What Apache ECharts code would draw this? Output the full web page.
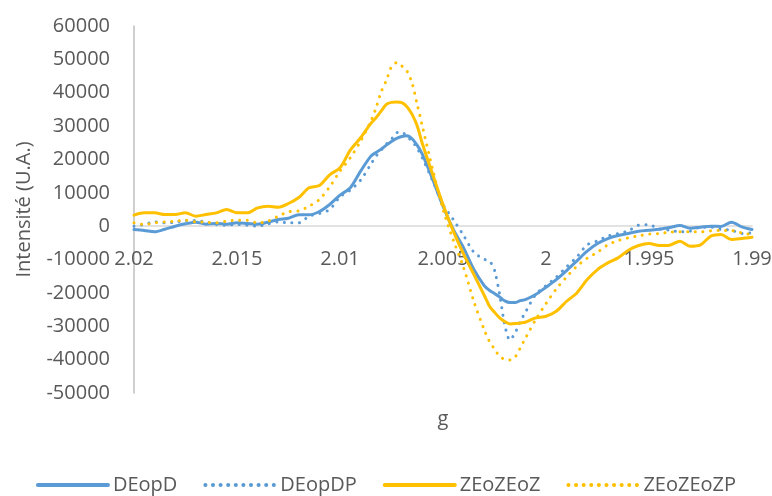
<!DOCTYPE html>
<html>
<head>
<meta charset="utf-8">
<script src="https://cdn.jsdelivr.net/npm/echarts@6/dist/echarts.min.js"></script>
<style>
  html, body { margin: 0; padding: 0; background: #fff; }
  #chart { width: 772px; height: 496px; }
</style>
</head>
<body>
<div id="chart"></div>
<script>
// g values (x axis, reversed)
const gValues = [
  2.0200, 2.0195, 2.0190, 2.0185, 2.0180, 2.0175, 2.0170, 2.0165, 2.0160, 2.0155,
  2.0150, 2.0145, 2.0140, 2.0135, 2.0130, 2.0125, 2.0120, 2.0115, 2.0110, 2.0105,
  2.0100, 2.0095, 2.0090, 2.0085, 2.00825, 2.0080, 2.00775, 2.0075, 2.00725, 2.0070,
  2.00675, 2.0065, 2.00625, 2.0060, 2.0055, 2.0050, 2.0045, 2.0040, 2.0035, 2.0030,
  2.00275, 2.0025, 2.00225, 2.0020, 2.00175, 2.0015, 2.00125, 2.0010, 2.0005, 2.0000,
  1.9995, 1.9990, 1.9985, 1.9980, 1.9975, 1.9970, 1.9965, 1.9960, 1.9955, 1.9950,
  1.9945, 1.9940, 1.9935, 1.9930, 1.9925, 1.9920, 1.9915, 1.9910, 1.9905, 1.9900
];

const DEopD = [
  -1000, -1300, -1700, -900, 0, 700, 1200, 600, 800, 600,
  1000, 800, 600, 1200, 2000, 2400, 3400, 3400, 4400, 6500,
  9300, 11500, 16500, 21000, 22100, 23100, 24300, 25400, 26300, 26900,
  27100, 26200, 24200, 21500, 14000, 6000, -1000, -6500, -13000, -17800,
  -19200, -20200, -21200, -22400, -22900, -22900, -22300, -22000, -20500, -18300,
  -16000, -13300, -10400, -7500, -5200, -3700, -2800, -2200, -1500, -1200,
  -900, -400, 200, -600, -300, 0, -100, 1200, -200, -1000
];

const DEopDP = [
  0, 500, 1300, 1000, 1200, 1700, 1700, 1200, 500, 300,
  500, 300, 0, 700, 1300, 1000, 1000, 3000, 3800, 5000,
  8800, 10800, 13800, 18600, 21000, 22800, 24600, 26100, 28000, 28200,
  26800, 25500, 23300, 20400, 13600, 6500, 2000, -2800, -7800, -9900,
  -10400, -13200, -20500, -29600, -34100, -32000, -28600, -25800, -20500, -17800,
  -15300, -12200, -9200, -5600, -4400, -3000, -2200, -1400, 300, 400,
  -800, -1200, -1700, -1500, -300, -300, -1000, -1200, -2200, -2000
];

const ZEoZEoZ = [
  3300, 4000, 4000, 3500, 3500, 4000, 3000, 3500, 4000, 5000,
  4000, 4000, 5500, 6000, 5700, 6800, 8600, 11500, 12200, 15400,
  17500, 22800, 26500, 30800, 32500, 34500, 36500, 37100, 37200, 37000,
  35800, 33500, 30000, 24700, 15500, 6500, -1500, -8400, -14500, -20700,
  -23900, -25800, -27500, -28600, -29300, -29200, -29000, -28800, -27500, -27000,
  -25500, -22500, -20000, -16000, -13000, -11000, -9500, -7200, -5800, -5200,
  -5800, -5700, -4500, -6000, -5600, -3000, -2500, -4000, -3700, -3300
];

const ZEoZEoZP = [
  1000, 500, 1000, 1300, 1500, 1800, 1300, 1200, 1000, 1500,
  1800, 1800, 1000, 1500, 3000, 4300, 4600, 6000, 8000, 11800,
  16500, 20500, 25500, 31500, 35500, 40300, 43700, 47800, 49000, 48000,
  46500, 42800, 36500, 29900, 17000, 5000, -4200, -12400, -22600, -31000,
  -34500, -36800, -39000, -39900, -40100, -39200, -36500, -33600, -28000, -23200,
  -18800, -15200, -12000, -9600, -7800, -5600, -4300, -3500, -2900, -2400,
  -2200, -1800, -1700, -1700, -1700, -1400, -1300, -1300, -2000, -2500
];

const seriesNames = ['DEopD', 'DEopDP', 'ZEoZEoZ', 'ZEoZEoZP'];
const seriesValues = [DEopD, DEopDP, ZEoZEoZ, ZEoZEoZP];

const BLUE = '#5B9BD5';
const GOLD = '#FFC000';
const TEXT = '#595959';
const FONT = 'Open Sans';

const styles = [
  { color: BLUE, dotted: false },
  { color: BLUE, dotted: true },
  { color: GOLD, dotted: false },
  { color: GOLD, dotted: true }
];

const chart = echarts.init(document.getElementById('chart'));

const series = seriesNames.map((name, k) => ({
  name: name,
  type: 'line',
  data: gValues.map((g, i) => [g, seriesValues[k][i]]),
  symbol: 'none',
  smooth: 0.3,
  lineStyle: {
    color: styles[k].color,
    width: 3,
    type: styles[k].dotted ? [0.1, 7.5] : 'solid',
    cap: 'round'
  },
  itemStyle: { color: styles[k].color }
}));

// the x axis sits on the zero line; grid bottom is at -50000, 5 steps below zero
const gridTop = 26, gridBottom = 103, gridH = 496 - gridTop - gridBottom;
const zeroShift = gridH * 5 / 11;

chart.setOption({
  animation: false,
  textStyle: { fontFamily: FONT },
  grid: { left: 134, right: 20, top: gridTop, bottom: gridBottom, outerBoundsMode: 'none' },
  legend: {
    data: seriesNames,
    top: 470,
    left: 'center',
    itemWidth: 70,
    itemHeight: 14,
    itemGap: 26,
    itemStyle: { opacity: 0 },
    lineStyle: { width: 4 },
    textStyle: { color: TEXT, fontSize: 20, fontFamily: FONT }
  },
  xAxis: {
    type: 'value',
    inverse: true,
    min: 1.99,
    max: 2.02,
    interval: 0.005,
    offset: -zeroShift,
    name: 'g',
    nameLocation: 'middle',
    nameGap: 183,
    nameTextStyle: { color: TEXT, fontSize: 20, fontFamily: FONT },
    axisLine: { onZero: false, lineStyle: { color: '#D9D9D9', width: 1.5 } },
    axisTick: { show: false },
    splitLine: { show: false },
    axisLabel: {
      color: TEXT,
      fontSize: 20,
      margin: 23,
      formatter: v => String(+v.toFixed(3))
    }
  },
  yAxis: {
    type: 'value',
    min: -50000,
    max: 60000,
    interval: 10000,
    name: 'Intensité (U.A.)',
    nameLocation: 'middle',
    nameGap: 100,
    nameTextStyle: { color: TEXT, fontSize: 20, fontFamily: FONT },
    axisLine: { show: true, lineStyle: { color: '#BFBFBF', width: 1.5 } },
    axisTick: { show: false },
    splitLine: { show: false },
    axisLabel: { color: TEXT, fontSize: 20, margin: 24, formatter: v => String(v) }
  },
  series: series
});
</script>
</body>
</html>
